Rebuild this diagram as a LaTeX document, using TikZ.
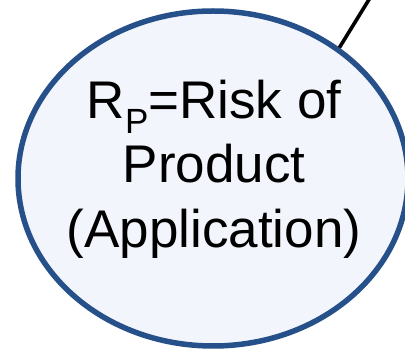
\documentclass[tikz,border=0pt]{standalone}
\usepackage{fontspec}
\setmainfont{Liberation Sans}
\usetikzlibrary{shapes.geometric}
\definecolor{bubbleline}{HTML}{26508A}
\definecolor{bubblefill}{HTML}{F2F5FB}
\tikzset{
	bubble/.style={ellipse, draw=bubbleline, fill=bubblefill, line width=5.5pt, inner sep=0pt, minimum width=390pt, minimum height=335pt},
	bubbletext/.style={align=center, inner sep=0pt, font=\fontsize{53}{64.5}\selectfont},
	link/.style={line width=3.6pt, black}
}
\begin{document}
\begin{tikzpicture}[x=1pt, y=1pt, line join=round]
	\useasboundingbox (0,0) rectangle (405,351);
	\clip (0,0) rectangle (405,351);
	\node[bubble] (rp) at (213,172.5) {};
	\node[bubbletext] (rptext) at (214,182.2) {R\raisebox{-15pt}{\fontsize{35}{35}\selectfont P}=Risk of\\Product\\(Application)};
	\coordinate (up) at (381,371);
	\draw[link] (rp.46) -- (up);
\end{tikzpicture}
\end{document}
